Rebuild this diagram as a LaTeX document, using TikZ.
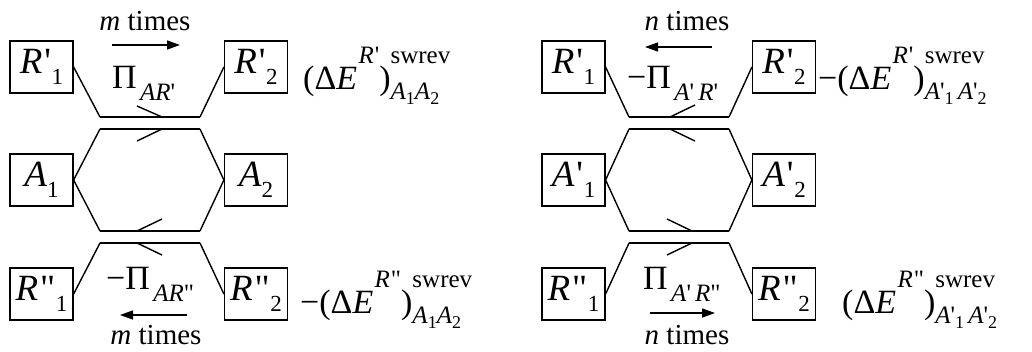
\documentclass[tikz,border=0pt]{standalone}
\usepackage{fontspec}
\setmainfont{Liberation Serif}
\usetikzlibrary{arrows.meta}
\newcommand{\pq}{\textquotesingle}
\newcommand{\pqq}{\textquotedbl}
\newcommand{\bsub}[1]{\raisebox{-0.3em}{\fontsize{23}{23}\selectfont #1}}
\newcommand{\lsub}[1]{\raisebox{-0.36em}{\fontsize{25}{25}\selectfont #1}}
\newcommand{\ssub}[1]{\raisebox{-0.22em}{\fontsize{18}{18}\selectfont #1}}
\newcommand{\lsup}[1]{\raisebox{0.74em}{\fontsize{25}{25}\selectfont #1}}
\newcommand{\supsub}[2]{\makebox[0pt][l]{\raisebox{0.74em}{\fontsize{25}{25}\selectfont #1}}\raisebox{-0.3em}{\fontsize{25}{25}\selectfont #2}}
\begin{document}
\begin{tikzpicture}[x=1pt,y=-1pt,
  box/.style={draw, line width=1.2pt, minimum width=63pt, minimum height=52pt, inner sep=0pt, font=\fontsize{37}{40}\selectfont},
  lab/.style={inner sep=0pt, font=\fontsize{29}{31}\selectfont},
  big/.style={inner sep=0pt, font=\fontsize{34}{36}\selectfont},
  thinln/.style={line width=1.4pt},
  thickln/.style={line width=2.8pt},
  harp/.style={line width=1.4pt},
  arr/.style={line width=1.4pt, -{Triangle[length=13pt,width=9pt]}}]
\useasboundingbox (0,0) rectangle (1032,351);
% ---------------- left diagram
\node[box] (LR1) at (41.5,67) {\textit{R}\kern0.05em\pq\kern0.02em\bsub{1}};
\node[box] (LR2) at (256,67) {\textit{R}\kern0.05em\pq\kern0.02em\bsub{2}};
\node[box] (LA1) at (41.5,180) {\textit{A}\bsub{1}};
\node[box] (LA2) at (256,180) {\textit{A}\bsub{2}};
\node[box] (LS1) at (41.5,294) {\textit{R}\kern0.05em\pqq\kern0.02em\bsub{1}};
\node[box] (LS2) at (256,294) {\textit{R}\kern0.05em\pqq\kern0.02em\bsub{2}};
\coordinate (La) at (100,117); \coordinate (Lb) at (200,117);
\coordinate (Lc) at (100,129); \coordinate (Ld) at (200,129);
\coordinate (Le) at (100,231); \coordinate (Lf) at (200,231);
\coordinate (Lg) at (100,243); \coordinate (Lh) at (200,243);
\draw[thinln] (LR1.east) -- (La);
\draw[thinln] (LR2.west) -- (Lb);
\draw[thinln] (LA1.east) -- (Lc);
\draw[thinln] (LA1.east) -- (Le);
\draw[thinln] (LA2.west) -- (Ld);
\draw[thinln] (LA2.west) -- (Lf);
\draw[thinln] (LS1.east) -- (Lg);
\draw[thinln] (LS2.west) -- (Lh);
\draw[thickln] (La) -- coordinate[pos=0.62] (Lab) (Lb);
\draw[thickln] (Lc) -- coordinate[pos=0.62] (Lcd) (Ld);
\draw[thickln] (Le) -- coordinate[pos=0.37] (Lef) (Lf);
\draw[thickln] (Lg) -- coordinate[pos=0.37] (Lgh) (Lh);
\draw[harp] (Lab) -- ++(-25,-11);
\draw[harp] (Lcd) -- ++(-25,12);
\draw[harp] (Lef) -- ++(25,-12);
\draw[harp] (Lgh) -- ++(25,12);
\node[lab, anchor=base] (Lmt) at (145,30) {\textit{m} times};
\coordinate (Lt1) at (112,45); \coordinate (Lt2) at (180,45);
\draw[arr] (Lt1) -- (Lt2);
\node[big, anchor=base west] (LPi) at (112,88) {Π\kern0.1em\lsub{\textit{AR}\pq}};
\node[big, anchor=base west] (LE1) at (303,89) {(Δ\textit{E}\kern0.04em\lsup{\textit{R}\kern0.04em\pq})\supsub{swrev}{\textit{A}\ssub{1}\textit{A}\ssub{2}}};
\node[big, anchor=base west] (LPi2) at (106,289) {−Π\kern0.1em\lsub{\textit{AR}\pqq}};
\coordinate (Lb1) at (187,315); \coordinate (Lb2) at (120,315);
\draw[arr] (Lb1) -- (Lb2);
\node[lab, anchor=base] (Lmb) at (156,344) {\textit{m} times};
\node[big, anchor=base west] (LE2) at (300,313) {−(Δ\textit{E}\kern0.04em\lsup{\textit{R}\kern0.04em\pqq})\supsub{swrev}{\textit{A}\ssub{1}\textit{A}\ssub{2}}};
% ---------------- right diagram
\node[box] (RR1) at (573.5,67) {\textit{R}\kern0.05em\pq\kern0.02em\bsub{1}};
\node[box] (RR2) at (784,67) {\textit{R}\kern0.05em\pq\kern0.02em\bsub{2}};
\node[box] (RA1) at (573.5,180) {\textit{A}\kern0.05em\pq\kern0.02em\bsub{1}};
\node[box] (RA2) at (784,180) {\textit{A}\kern0.05em\pq\kern0.02em\bsub{2}};
\node[box] (RS1) at (573.5,294) {\textit{R}\kern0.05em\pqq\kern0.02em\bsub{1}};
\node[box] (RS2) at (784,294) {\textit{R}\kern0.05em\pqq\kern0.02em\bsub{2}};
\coordinate (Ra) at (629,117); \coordinate (Rb) at (729,117);
\coordinate (Rc) at (629,129); \coordinate (Rd) at (729,129);
\coordinate (Re) at (629,231); \coordinate (Rf) at (729,231);
\coordinate (Rg) at (629,243); \coordinate (Rh) at (729,243);
\draw[thinln] (RR1.east) -- (Ra);
\draw[thinln] (RR2.west) -- (Rb);
\draw[thinln] (RA1.east) -- (Rc);
\draw[thinln] (RA1.east) -- (Re);
\draw[thinln] (RA2.west) -- (Rd);
\draw[thinln] (RA2.west) -- (Rf);
\draw[thinln] (RS1.east) -- (Rg);
\draw[thinln] (RS2.west) -- (Rh);
\draw[thickln] (Ra) -- coordinate[pos=0.41] (Rab) (Rb);
\draw[thickln] (Rc) -- coordinate[pos=0.41] (Rcd) (Rd);
\draw[thickln] (Re) -- coordinate[pos=0.63] (Ref) (Rf);
\draw[thickln] (Rg) -- coordinate[pos=0.63] (Rgh) (Rh);
\draw[harp] (Rab) -- ++(25,-12);
\draw[harp] (Rcd) -- ++(25,12);
\draw[harp] (Ref) -- ++(-25,-12);
\draw[harp] (Rgh) -- ++(-25,12);
\node[lab, anchor=base] (Rnt) at (687,30) {\textit{n} times};
\coordinate (Rt1) at (712,47); \coordinate (Rt2) at (645,47);
\draw[arr] (Rt1) -- (Rt2);
\node[big, anchor=base west] (RPi) at (627,88) {−Π\kern0.1em\lsub{\textit{A}\pq\,\textit{R}\pq}};
\node[big, anchor=base west] (RE1) at (818,89) {−(Δ\textit{E}\kern0.04em\lsup{\textit{R}\kern0.04em\pq})\supsub{swrev}{\textit{A}\pq\ssub{1}\,\textit{A}\pq\ssub{2}}};
\node[big, anchor=base west] (RPi2) at (643,289) {Π\kern0.1em\lsub{\textit{A}\pq\,\textit{R}\pqq}};
\coordinate (Rb1) at (650,313); \coordinate (Rb2) at (715,313);
\draw[arr] (Rb1) -- (Rb2);
\node[lab, anchor=base] (Rnb) at (687,344) {\textit{n} times};
\node[big, anchor=base west] (RE2) at (842,313) {(Δ\textit{E}\kern0.04em\lsup{\textit{R}\kern0.04em\pqq})\supsub{swrev}{\textit{A}\pq\ssub{1}\,\textit{A}\pq\ssub{2}}};
\end{tikzpicture}
\end{document}
